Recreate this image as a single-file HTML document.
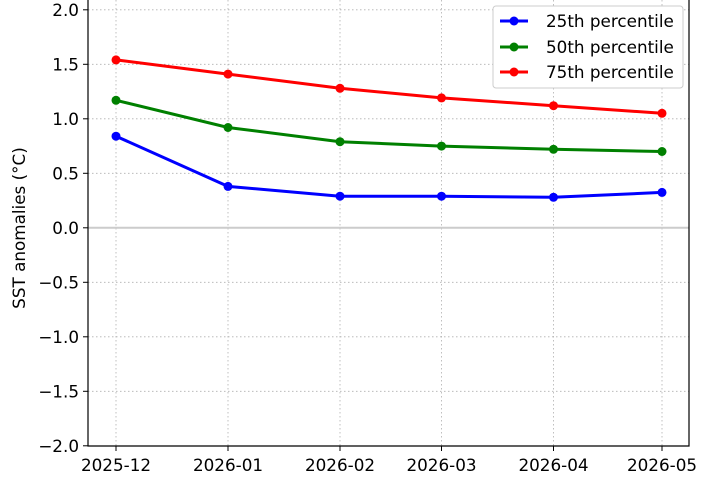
<!DOCTYPE html><html><head><style>body{margin:0;background:#fff}svg{font-family:"DejaVu Sans","Liberation Sans",sans-serif}</style></head><body>
<svg width="710" height="473" viewBox="0 0 710 473">
<g stroke="#b0b0b0" stroke-width="0.8" stroke-dasharray="1.5,2.5">
<line x1="88" x2="689" y1="9.8" y2="9.8"/><line x1="88" x2="689" y1="64.3" y2="64.3"/><line x1="88" x2="689" y1="118.8" y2="118.8"/><line x1="88" x2="689" y1="173.3" y2="173.3"/>
<line x1="88" x2="689" y1="282.3" y2="282.3"/><line x1="88" x2="689" y1="336.8" y2="336.8"/><line x1="88" x2="689" y1="391.3" y2="391.3"/>
<line x1="116" x2="116" y1="0" y2="446"/><line x1="228" x2="228" y1="0" y2="446"/><line x1="340" x2="340" y1="0" y2="446"/><line x1="441.5" x2="441.5" y1="0" y2="446"/><line x1="553.5" x2="553.5" y1="0" y2="446"/><line x1="662" x2="662" y1="0" y2="446"/>
</g>
<line x1="88" x2="689" y1="227.8" y2="227.8" stroke="#ccc" stroke-width="2"/>
<g fill="none" stroke-width="3">
<polyline stroke="#0000ff" points="116,136.2 228,186.4 340,196.2 441.5,196.2 553.5,197.3 662,192.4"/>
<polyline stroke="#008000" points="116,100.3 228,127.5 340,141.7 441.5,146.1 553.5,149.3 662,151.5"/>
<polyline stroke="#ff0000" points="116,59.9 228,74.1 340,88.3 441.5,97.9 553.5,105.7 662,113.3"/>
</g>
<g fill="#0000ff"><circle cx="116" cy="136.2" r="4.5"/><circle cx="228" cy="186.4" r="4.5"/><circle cx="340" cy="196.2" r="4.5"/><circle cx="441.5" cy="196.2" r="4.5"/><circle cx="553.5" cy="197.3" r="4.5"/><circle cx="662" cy="192.4" r="4.5"/></g>
<g fill="#008000"><circle cx="116" cy="100.3" r="4.5"/><circle cx="228" cy="127.5" r="4.5"/><circle cx="340" cy="141.7" r="4.5"/><circle cx="441.5" cy="146.1" r="4.5"/><circle cx="553.5" cy="149.3" r="4.5"/><circle cx="662" cy="151.5" r="4.5"/></g>
<g fill="#ff0000"><circle cx="116" cy="59.9" r="4.5"/><circle cx="228" cy="74.1" r="4.5"/><circle cx="340" cy="88.3" r="4.5"/><circle cx="441.5" cy="97.9" r="4.5"/><circle cx="553.5" cy="105.7" r="4.5"/><circle cx="662" cy="113.3" r="4.5"/></g>
<g stroke="#000" stroke-width="1.2" fill="none"><polyline points="88,0 88,446 689,446 689,0"/></g>
<g stroke="#000" stroke-width="1">
<line x1="83" x2="88" y1="9.8" y2="9.8"/><line x1="83" x2="88" y1="64.3" y2="64.3"/><line x1="83" x2="88" y1="118.8" y2="118.8"/><line x1="83" x2="88" y1="173.3" y2="173.3"/><line x1="83" x2="88" y1="227.8" y2="227.8"/><line x1="83" x2="88" y1="282.3" y2="282.3"/><line x1="83" x2="88" y1="336.8" y2="336.8"/><line x1="83" x2="88" y1="391.3" y2="391.3"/><line x1="83" x2="88" y1="445.8" y2="445.8"/>
<line x1="116" x2="116" y1="446" y2="451"/><line x1="228" x2="228" y1="446" y2="451"/><line x1="340" x2="340" y1="446" y2="451"/><line x1="441.5" x2="441.5" y1="446" y2="451"/><line x1="553.5" x2="553.5" y1="446" y2="451"/><line x1="662" x2="662" y1="446" y2="451"/>
</g>
<g font-size="16.8" text-anchor="end" fill="#000">
<text x="79" y="16">2.0</text><text x="79" y="70.5">1.5</text><text x="79" y="125">1.0</text><text x="79" y="179.5">0.5</text><text x="79" y="234">0.0</text><text x="79" y="288.5">−0.5</text><text x="79" y="343">−1.0</text><text x="79" y="397.5">−1.5</text><text x="79" y="452">−2.0</text>
</g>
<g font-size="16.8" text-anchor="middle" fill="#000">
<text x="116" y="471">2025-12</text><text x="228" y="471">2026-01</text><text x="340" y="471">2026-02</text><text x="441.5" y="471">2026-03</text><text x="553.5" y="471">2026-04</text><text x="662" y="471">2026-05</text>
</g>
<text transform="translate(25,228) rotate(-90)" font-size="16.8" text-anchor="middle">SST anomalies (°C)</text>
<rect x="493" y="6" width="190" height="82" rx="3" fill="#fff" stroke="#ccc"/>
<g stroke-width="3"><line x1="500" x2="528" y1="21" y2="21" stroke="#0000ff"/><line x1="500" x2="528" y1="47" y2="47" stroke="#008000"/><line x1="500" x2="528" y1="72" y2="72" stroke="#ff0000"/></g>
<circle cx="514" cy="21" r="4.5" fill="#0000ff"/><circle cx="514" cy="47" r="4.5" fill="#008000"/><circle cx="514" cy="72" r="4.5" fill="#ff0000"/>
<g font-size="16.8"><text x="546" y="27">25th percentile</text><text x="546" y="53">50th percentile</text><text x="546" y="78">75th percentile</text></g>
</svg></body></html>
